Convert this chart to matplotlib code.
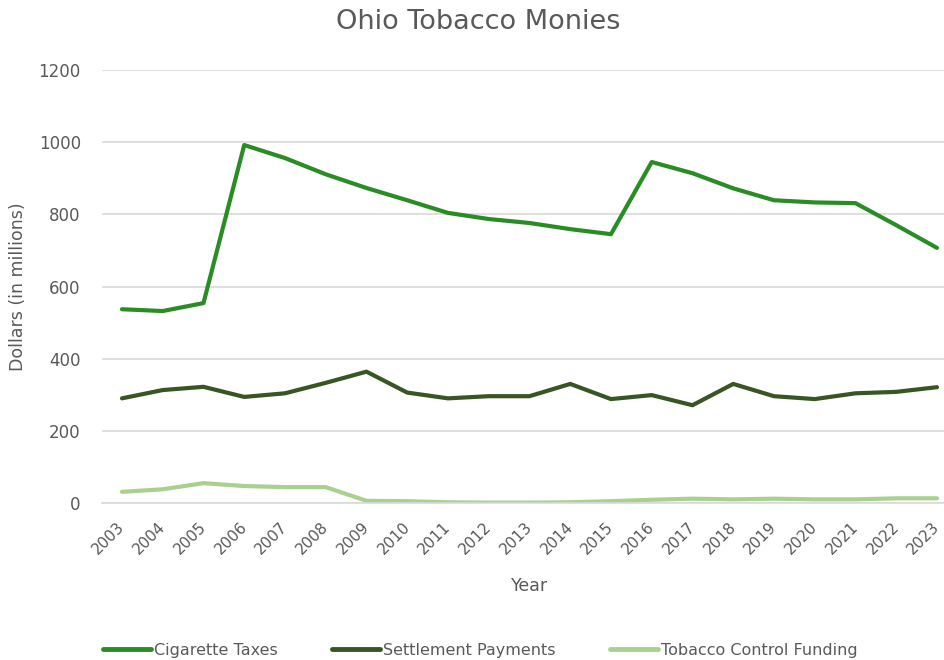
import matplotlib
matplotlib.use('Agg')
import matplotlib.pyplot as plt
import matplotlib.transforms as mtransforms

years = list(range(2003, 2024))
cigarette_taxes = [537, 532, 554, 992, 956, 911, 873, 839, 804, 787, 776, 759, 745,
                   945, 914, 872, 839, 833, 831, 770, 707]
settlement_payments = [290, 313, 322, 294, 304, 333, 364, 306, 290, 296, 296, 330, 288,
                       299, 271, 330, 296, 288, 304, 308, 321]
control_funding = [31, 38, 55, 47, 44, 44, 6, 5, 2, 1, 1, 2, 5,
                   9, 12, 10, 12, 10, 10, 13, 13]

grey = '#595959'

fig = plt.figure(figsize=(9.45, 6.6), dpi=100)
ax = fig.add_axes([101.6/945, 157/660, 855.75/945, 433/660])

ax.plot(years, cigarette_taxes, color='#2a8c24', lw=3, label='Cigarette Taxes', solid_capstyle='round')
ax.plot(years, settlement_payments, color='#375623', lw=3, label='Settlement Payments', solid_capstyle='round')
ax.plot(years, control_funding, color='#a9d18e', lw=3, label='Tobacco Control Funding', solid_capstyle='round')

ax.set_xlim(2002.5, 2023.5)
ax.set_ylim(0, 1200)
ax.set_yticks(range(0, 1201, 200))
ax.set_xticks(years)
ax.set_xticklabels([str(y) for y in years], rotation=45, ha='right', rotation_mode='anchor')
ax.grid(axis='y', color='#d9d9d9', lw=1.2)
ax.set_axisbelow(True)
for s in ['top', 'right', 'left']:
    ax.spines[s].set_visible(False)
ax.spines['bottom'].set_color('#d9d9d9')
ax.spines['bottom'].set_linewidth(1.2)
ax.tick_params(length=0, colors=grey)
ax.tick_params(axis='y', labelsize=12, pad=15)
ax.tick_params(axis='x', labelsize=11, pad=12)
# nudge year labels left a bit so the last one stays inside
shift = mtransforms.ScaledTranslation(-5/100, 0, fig.dpi_scale_trans)
for lab in ax.get_xticklabels():
    lab.set_transform(lab.get_transform() + shift)

ax.set_xlabel('Year', fontsize=12.5, color=grey, labelpad=14)
ax.set_ylabel('Dollars (in millions)', fontsize=12.5, color=grey, labelpad=8)
fig.text(478/945, 1 - 22/660, 'Ohio Tobacco Monies', ha='center', va='center', fontsize=19.5, color=grey)

fig.legend(loc='center', bbox_to_anchor=(480/945, 10/660), ncol=3, frameon=False,
           fontsize=11.5, labelcolor=grey, handlelength=3, handletextpad=0.2, columnspacing=3.4)
for h in fig.legends[0].legend_handles:
    h.set_linewidth(3.5)

fig.savefig('out.png', dpi=100)
